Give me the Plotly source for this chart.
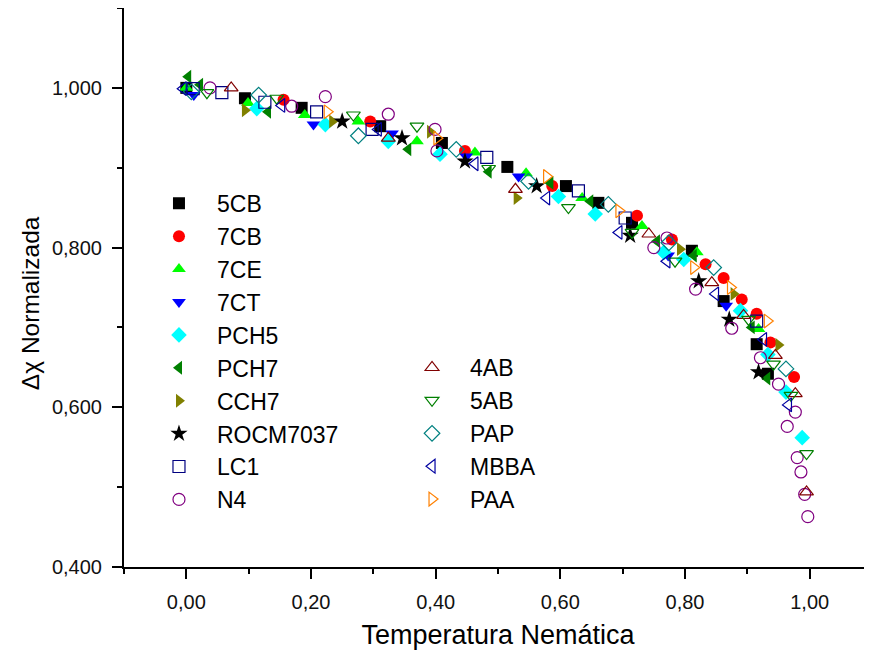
import plotly.graph_objects as go

# --- data (normalized nematic temperature vs normalized anisotropy) ---
x_5cb = [0.0, 0.094, 0.185, 0.311, 0.41, 0.515, 0.609, 0.661, 0.715, 0.811, 0.862, 0.915, 0.933]
y_5cb = [1.0, 0.987, 0.975, 0.952, 0.931, 0.901, 0.877, 0.856, 0.831, 0.796, 0.733, 0.679, 0.642]

x_7cb = [0.156, 0.295, 0.447, 0.587, 0.723, 0.779, 0.833, 0.862, 0.891, 0.915, 0.937, 0.975]
y_7cb = [0.985, 0.958, 0.921, 0.877, 0.84, 0.81, 0.779, 0.762, 0.735, 0.717, 0.681, 0.638]

x_7ce = [0.0, 0.099, 0.19, 0.276, 0.37, 0.463, 0.545, 0.635, 0.731, 0.819, 0.918]
y_7ce = [1.0, 0.981, 0.966, 0.958, 0.933, 0.919, 0.893, 0.862, 0.827, 0.794, 0.698]

x_7ct = [0.012, 0.204, 0.33, 0.449, 0.533, 0.773, 0.866]
y_7ct = [0.991, 0.954, 0.943, 0.914, 0.889, 0.79, 0.727]

x_pch5 = [0.113, 0.223, 0.324, 0.407, 0.597, 0.656, 0.766, 0.798, 0.889, 0.933, 0.962, 0.988]
y_pch5 = [0.974, 0.954, 0.933, 0.917, 0.864, 0.842, 0.794, 0.785, 0.721, 0.666, 0.619, 0.562]

x_pch7 = [0.003, 0.022, 0.131, 0.356, 0.485, 0.584, 0.648, 0.755, 0.814, 0.907, 0.932]
y_pch7 = [1.014, 1.004, 0.970, 0.923, 0.895, 0.881, 0.858, 0.808, 0.79, 0.70, 0.636]

x_cch7 = [0.094, 0.234, 0.391, 0.53, 0.792, 0.878, 0.95]
y_cch7 = [0.972, 0.958, 0.945, 0.862, 0.798, 0.742, 0.678]

x_rocm = [0.25, 0.346, 0.447, 0.562, 0.712, 0.822, 0.871, 0.918]
y_rocm = [0.958, 0.937, 0.908, 0.877, 0.815, 0.758, 0.71, 0.644]

x_lc1 = [0.011, 0.057, 0.126, 0.209, 0.298, 0.482, 0.629, 0.704, 0.915]
y_lc1 = [0.999, 0.994, 0.982, 0.970, 0.948, 0.913, 0.871, 0.837, 0.708]

x_n4 = [0.038, 0.169, 0.223, 0.324, 0.399, 0.402, 0.75, 0.771, 0.817, 0.875, 0.921,
        0.95, 0.964, 0.977, 0.98, 0.986, 0.992, 0.997]
y_n4 = [1.0, 0.977, 0.989, 0.967, 0.948, 0.921, 0.80, 0.812, 0.748, 0.699, 0.662,
        0.629, 0.576, 0.594, 0.537, 0.519, 0.491, 0.463]

x_4ab = [0.072, 0.324, 0.528, 0.742, 0.843, 0.894, 0.945, 0.977, 0.995]
y_4ab = [1.0, 0.937, 0.873, 0.817, 0.756, 0.715, 0.665, 0.617, 0.494]

x_5ab = [0.033, 0.145, 0.268, 0.37, 0.485, 0.613, 0.715, 0.784, 0.902, 0.942, 0.97, 0.995]
y_5ab = [0.994, 0.987, 0.966, 0.952, 0.899, 0.85, 0.819, 0.783, 0.71, 0.654, 0.615, 0.542]

x_pap = [0.008, 0.116, 0.276, 0.433, 0.549, 0.677, 0.774, 0.846, 0.962]
y_pap = [0.995, 0.991, 0.94, 0.923, 0.883, 0.854, 0.806, 0.775, 0.648]

x_mbba = [-0.005, 0.153, 0.308, 0.463, 0.578, 0.694, 0.771, 0.849, 0.926, 0.966]
y_mbba = [0.999, 0.978, 0.948, 0.905, 0.862, 0.819, 0.783, 0.742, 0.685, 0.603]

x_paa = [0.226, 0.402, 0.578, 0.694, 0.814, 0.873, 0.932]
y_paa = [0.970, 0.937, 0.889, 0.846, 0.775, 0.75, 0.708]

FONT = "Arial, Liberation Sans, sans-serif"

# name, x, y, symbol, color, filled, legend
series = [
    ("5CB", x_5cb, y_5cb, "square", "#000000", True, "legend"),
    ("7CB", x_7cb, y_7cb, "circle", "#ff0000", True, "legend"),
    ("7CE", x_7ce, y_7ce, "triangle-up", "#00ff00", True, "legend"),
    ("7CT", x_7ct, y_7ct, "triangle-down", "#0000ff", True, "legend"),
    ("PCH5", x_pch5, y_pch5, "diamond", "#00ffff", True, "legend"),
    ("PCH7", x_pch7, y_pch7, "triangle-left", "#008000", True, "legend"),
    ("CCH7", x_cch7, y_cch7, "triangle-right", "#808000", True, "legend"),
    ("ROCM7037", x_rocm, y_rocm, "star", "#000000", True, "legend"),
    ("LC1", x_lc1, y_lc1, "square-open", "#000080", False, "legend"),
    ("N4", x_n4, y_n4, "circle-open", "#800080", False, "legend"),
    ("4AB", x_4ab, y_4ab, "triangle-up-open", "#800000", False, "legend2"),
    ("5AB", x_5ab, y_5ab, "triangle-down-open", "#008000", False, "legend2"),
    ("PAP", x_pap, y_pap, "diamond-open", "#008080", False, "legend2"),
    ("MBBA", x_mbba, y_mbba, "triangle-left-open", "#0000a0", False, "legend2"),
    ("PAA", x_paa, y_paa, "triangle-right-open", "#ff8000", False, "legend2"),
]

fig = go.Figure()
for name, xs, ys, sym, col, filled, leg in series:
    size = 13 if sym == "star" else 12
    fig.add_trace(go.Scatter(
        x=xs, y=ys, mode="markers", name=name, legend=leg,
        marker=dict(symbol=sym, color=col, size=size,
                    line=dict(width=0 if filled else 1.2, color=col)),
        cliponaxis=False,
    ))

axis_common = dict(
    showgrid=False, zeroline=False, showline=True, linecolor="black", linewidth=2,
    ticks="outside", ticklen=10, tickwidth=2, tickcolor="black", ticklabelstandoff=6,
    tickfont=dict(family=FONT, size=20, color="#111111"),
)
minor_common = dict(ticks="outside", ticklen=5, tickwidth=2, tickcolor="black")
legend_common = dict(xanchor="left", yanchor="top", bgcolor="rgba(0,0,0,0)",
                     font=dict(family=FONT, size=23, color="black"),
                     itemwidth=66, traceorder="normal")

# the page adds an 8px body margin, so the figure is a little smaller than the window
fig.update_layout(
    width=864, height=645,
    paper_bgcolor="white", plot_bgcolor="white",
    margin=dict(l=116, r=0, t=0, b=86),
    separators=",.",
    font=dict(family=FONT, color="black"),
    showlegend=True,
    xaxis=dict(range=[-0.1, 1.1], dtick=0.2, tick0=0, tickformat=".2f",
               minor=dict(dtick=0.1, tick0=0, **minor_common),
               title=dict(text="Temperatura Nemática", font=dict(family=FONT, size=27), standoff=13),
               **axis_common),
    yaxis=dict(range=[0.4, 1.1], dtick=0.2, tick0=0.4, tickformat=".3f",
               minor=dict(dtick=0.1, tick0=0.4, **minor_common),
               **axis_common),
    legend=dict(x=0.0227, y=0.689, **legend_common),
    legend2=dict(x=0.361, y=0.3953, **legend_common),
    annotations=[dict(text="Δχ Normalizada", textangle=-90, xref="paper", yref="paper",
                      x=-0.1257, y=0.472, xanchor="center", yanchor="middle", showarrow=False,
                      font=dict(family=FONT, size=24.5, color="black"))],
)

fig.write_html("out.html")
